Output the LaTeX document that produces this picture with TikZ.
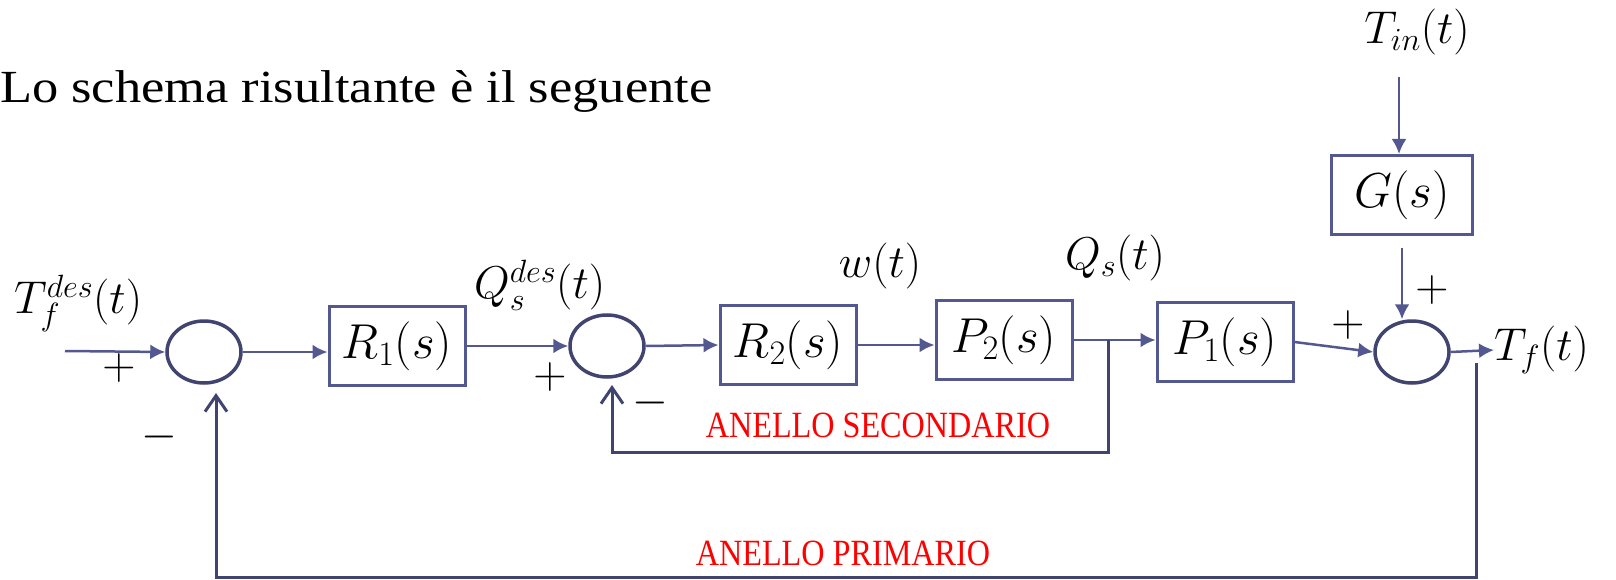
\RequirePackage{fix-cm}
\documentclass[tikz,border=0pt]{standalone}
\usepackage{fontspec}
\setmainfont{Liberation Serif}
\usetikzlibrary{arrows.meta,shapes.geometric,calc}
\definecolor{ln}{RGB}{84,88,145}
\definecolor{fb}{RGB}{66,68,112}
\definecolor{loopred}{RGB}{255,0,0}
\begin{document}
\begin{tikzpicture}[x=1pt,y=-1pt,
 blk/.style={draw=ln,line width=3pt,minimum width=136pt,minimum height=79pt,inner sep=0pt,font=\fontsize{49}{52}\selectfont},
 sumj/.style={draw=fb,line width=3.5pt,ellipse,minimum width=74pt,minimum height=62pt,inner sep=0pt},
 sig/.style={draw=ln,line width=2.5pt,-{Latex[length=15pt,width=15pt]}},
 fbk/.style={draw=fb,line width=3pt,-{Straight Barb[length=16pt,width=22pt,line width=3pt]}},
 lab/.style={font=\fontsize{46}{50}\selectfont,inner sep=0pt},
 sgn/.style={font=\fontsize{46}{50}\selectfont,inner sep=0pt},
 looplab/.style={text=loopred,font=\fontsize{37}{40}\selectfont,inner sep=0pt}
]
\useasboundingbox (0,0) rectangle (1616,580);
\node[anchor=base west,inner sep=0pt,font=\fontsize{46}{50}\selectfont] (title) at (0,103) {\scalebox{1.14}[1]{Lo schema risultante è il seguente}};

\node[sumj] (s1) at (204,352) {};
\node[blk] (r1) at (397,346) {$R_1(s)$};
\node[sumj] (s2) at (607,346) {};
\node[blk] (r2) at (788,345) {$R_2(s)$};
\node[blk] (p2) at (1004,340) {$P_2(s)$};
\node[blk] (p1) at (1225,342) {$P_1(s)$};
\node[sumj] (s3) at (1412,352) {};
\node[blk,minimum width=141pt] (g) at (1402,195) {$G(s)$};

\node[lab] (tin) at (1417,32) {$T_{in}(t)$};
\node[lab,anchor=west] (tfdes) at (14,303) {$T_f^{des}(t)$};
\node[lab,anchor=west] (qsdes) at (474,285) {$Q_s^{des}(t)$};
\node[lab] (w) at (880,266) {$w(t)$};
\node[lab] (qs) at (1115,258) {$Q_s(t)$};
\node[lab,anchor=west] (tf) at (1494,350) {$T_f(t)$};

\node[sgn] (p1s) at (119,368) {$+$};
\node[sgn] (m1s) at (159,437) {$-$};
\node[sgn] (p2s) at (550,377) {$+$};
\node[sgn] (m2s) at (650,403) {$-$};
\node[sgn] (p3s) at (1348,325) {$+$};
\node[sgn] (p4s) at (1432,290) {$+$};

\node[looplab] (sec) at (878,425) {\scalebox{0.87}[1]{ANELLO SECONDARIO}};
\node[looplab] (pri) at (843,553) {\scalebox{0.87}[1]{ANELLO PRIMARIO}};

\coordinate (in) at (65,351);
\coordinate (tintop) at (1399,77);
\coordinate (br) at (1108,340);
\coordinate (sb) at (1108,452);
\coordinate (sl) at (612,452);
\coordinate (st) at (612,385);
\coordinate (pf) at (1476,363);
\coordinate (pr) at (1476,577);
\coordinate (pl) at (216,577);
\coordinate (pt) at (216,393);

\draw[sig] (in) -- (s1.west);
\draw[sig] (s1.east) -- (s1.east -| r1.west);
\draw[sig] (r1.east) -- (s2.west);
\draw[sig] (s2.east) -- (r2.west);
\draw[sig] (r2.east) -- (r2.east -| p2.west);
\draw[sig] (p2.east) -- (p2.east -| p1.west);
\draw[sig] (p1.east) -- (s3.west);
\draw[sig] (s3.east) -- (tf.west);
\draw[sig] (tintop) -- (tintop |- g.north);
\draw[sig] ($(g.south)+(0,12)$) -- (g.south |- s3.north);

\draw[fbk] (br) -- (sb) -- (sl) -- (st);
\draw[fbk] (pf) -- (pr) -- (pl) -- (pt);
\end{tikzpicture}
\end{document}
